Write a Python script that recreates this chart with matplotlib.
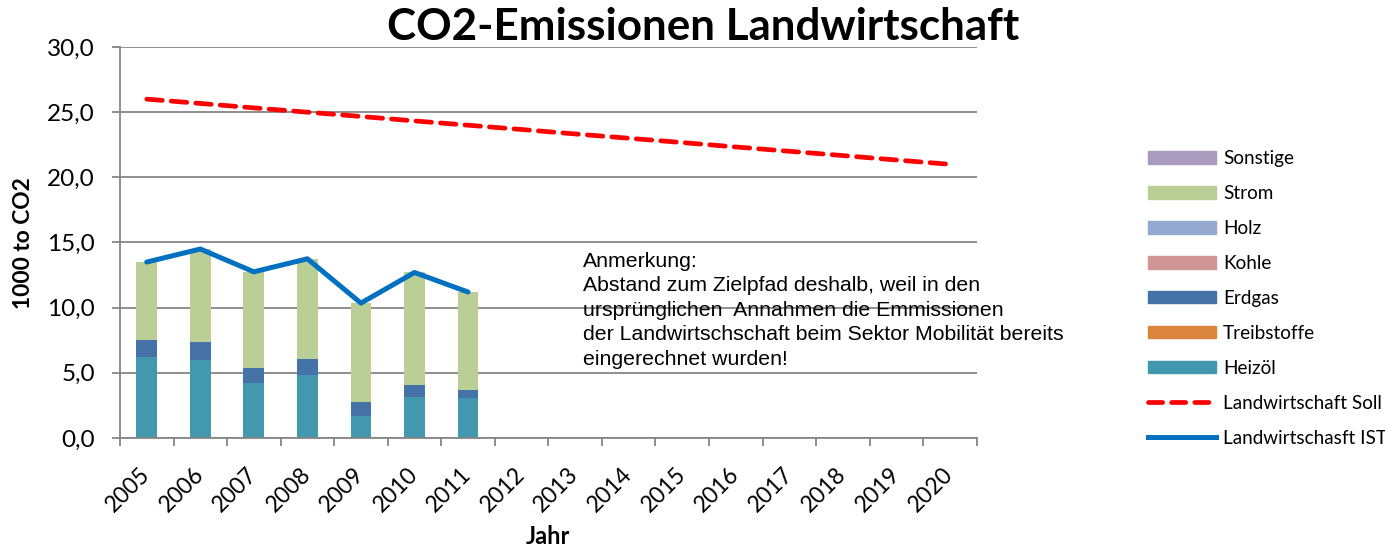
import matplotlib
matplotlib.use("Agg")
import matplotlib.pyplot as plt
from matplotlib.patches import Patch
from matplotlib.lines import Line2D
import numpy as np

years = [str(y) for y in range(2005, 2021)]
bar_years = years[:7]

heizoel = [6.25, 6.0, 4.2, 4.85, 1.7, 3.15, 3.05]
treibstoffe = [0, 0, 0, 0, 0, 0, 0]
erdgas = [1.3, 1.35, 1.15, 1.2, 1.05, 0.9, 0.6]
kohle = [0, 0.03, 0, 0.03, 0.03, 0, 0]
holz = [0, 0, 0, 0, 0, 0, 0]
strom = [5.95, 7.12, 7.4, 7.67, 7.57, 8.65, 7.55]
sonstige = [0, 0, 0, 0, 0, 0, 0]

ist = [13.5, 14.5, 12.75, 13.75, 10.35, 12.7, 11.2]
soll = [26.0, 25.67, 25.33, 25.0, 24.67, 24.33, 24.0, 23.67, 23.33, 23.0,
        22.67, 22.33, 22.0, 21.67, 21.33, 21.0]

yticks = [0, 5, 10, 15, 20, 25, 30]
ytick_labels = ["0,0", "5,0", "10,0", "15,0", "20,0", "25,0", "30,0"]

colors = {
    "Sonstige": "#A99BBD",
    "Strom": "#B9CF96",
    "Holz": "#95A9D0",
    "Kohle": "#D09594",
    "Erdgas": "#4572A7",
    "Treibstoffe": "#DB843D",
    "Heizöl": "#4198AF",
}

W, H = 1385, 549
fig = plt.figure(figsize=(W / 100, H / 100), dpi=100)
ax = fig.add_axes([120 / W, 1 - 438 / H, (976.7 - 120) / W, (438 - 47) / H])

cal = ["Lato", "DejaVu Sans"]
grid_c = "#868686"

x = np.arange(len(years))
xb = np.arange(len(bar_years))
bw = 0.39
stack = [("Heizöl", heizoel), ("Treibstoffe", treibstoffe), ("Erdgas", erdgas),
         ("Kohle", kohle), ("Holz", holz), ("Strom", strom), ("Sonstige", sonstige)]
bottom = np.zeros(len(bar_years))
for name, vals in stack:
    v = np.array(vals, dtype=float)
    ax.bar(xb, v, bw, bottom=bottom, color=colors[name], linewidth=0, zorder=2)
    bottom += v

ax.plot(x, soll, color="#FF0000", lw=3.4, dashes=(3.3, 1.9), solid_capstyle="round",
        dash_capstyle="round", zorder=3)
ax.plot(xb, ist, color="#0070C0", lw=3.6, solid_capstyle="round", zorder=4)

ax.set_xlim(-0.5, len(years) - 0.5)
ax.set_ylim(0, 30)
ax.set_yticks(yticks)
ax.set_yticklabels(ytick_labels, family=cal, fontsize=17.5)
ax.grid(axis="y", color=grid_c, lw=1.3, zorder=0)
ax.set_axisbelow(True)

ax.set_xticks(x)
ax.set_xticklabels(years, family=cal, fontsize=16.5, rotation=45, ha="right",
                   va="center", rotation_mode="anchor")
ax.tick_params(axis="x", which="major", length=0, pad=24)
ax.set_xticks(np.arange(-0.5, len(years), 1.0), minor=True)
ax.tick_params(axis="x", which="minor", length=6, width=1.3, color=grid_c)
ax.tick_params(axis="y", length=6, width=1.3, color=grid_c, pad=12)

for s in ["top", "right"]:
    ax.spines[s].set_visible(False)
for s in ["left", "bottom"]:
    ax.spines[s].set_color(grid_c)
    ax.spines[s].set_linewidth(1.3)

fig.text(24 / W, 1 - 243 / H, "1000 to CO2", rotation=90, ha="center", va="center",
         family=cal, fontsize=16.4, fontweight="bold")
fig.text(548 / W, 1 - 537 / H, "Jahr", ha="center", va="center",
         family=cal, fontsize=17, fontweight="bold")
fig.text(703 / W, 1 - 27 / H, "CO2-Emissionen Landwirtschaft", ha="center", va="center",
         family=cal, fontsize=31.7, fontweight="bold")

note = ("Anmerkung:\nAbstand zum Zielpfad deshalb, weil in den\n"
        "ursprünglichen  Annahmen die Emmissionen\n"
        "der Landwirtschschaft beim Sektor Mobilität bereits\n"
        "eingerechnet wurden!")
fig.text(583 / W, 1 - 252 / H, note, ha="left", va="top", family="Liberation Sans",
         fontsize=15.3, linespacing=1.36)

handles = [Patch(color=colors[n]) for n in
           ["Sonstige", "Strom", "Holz", "Kohle", "Erdgas", "Treibstoffe", "Heizöl"]]
handles.append(Line2D([], [], color="#FF0000", lw=3.4, dashes=(3.0, 1.9),
                      dash_capstyle="round"))
handles.append(Line2D([], [], color="#0070C0", lw=3.6))
labels = ["Sonstige", "Strom", "Holz", "Kohle", "Erdgas", "Treibstoffe", "Heizöl",
          "Landwirtschaft Soll", "Landwirtschasft IST"]
fig.legend(handles, labels, loc="upper left", bbox_to_anchor=(1148 / W, 1 - 150 / H),
           frameon=False, prop={"family": cal, "size": 13.6}, handlelength=3.6,
           handleheight=0.65, handletextpad=0.37, labelspacing=0.95, borderaxespad=0,
           borderpad=0)

fig.savefig("out.png", dpi=100)
